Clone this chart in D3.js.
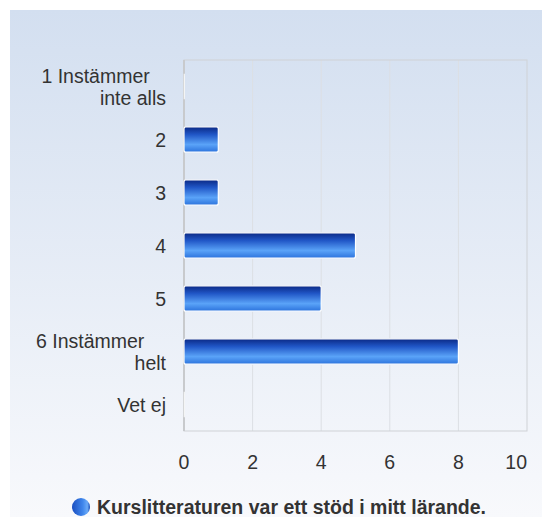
<!DOCTYPE html>
<html><head><meta charset="utf-8">
<script src="https://cdn.jsdelivr.net/npm/d3@7"></script>
<style>html,body{margin:0;padding:0;background:#fff;}svg{display:block;font-family:"Liberation Sans",Arial,sans-serif;}text{white-space:pre;}</style>
</head><body>
<script>
const categories = [["1 Instämmer   ","inte alls"],["2"],["3"],["4"],["5"],["6 Instämmer    ","helt"],["Vet ej"]];
const values = [0,1,1,5,4,8,0];
const xTicks = [0,2,4,6,8,10];
const seriesName = "Kurslitteraturen var ett stöd i mitt lärande.";

const W=542,H=517;
const m={left:184,right:527,top:60,bottom:431};
const FS=19.5;
const svg=d3.select("body").append("svg").attr("width",W).attr("height",H);
const defs=svg.append("defs");
const bg=defs.append("linearGradient").attr("id","bg").attr("x1",0).attr("y1",0).attr("x2",0).attr("y2",1);
bg.append("stop").attr("offset","0%").attr("stop-color","#d3dff0");
bg.append("stop").attr("offset","100%").attr("stop-color","#f8f9fc");
const bar=defs.append("linearGradient").attr("id","bar").attr("x1",0).attr("y1",0).attr("x2",0).attr("y2",1);
[["0%","#0a2884"],["30%","#2056c6"],["70%","#5aa3f8"],["100%","#2b72dc"]].forEach(s=>bar.append("stop").attr("offset",s[0]).attr("stop-color",s[1]));
const leg=defs.append("linearGradient").attr("id","leg").attr("x1",0).attr("y1",0).attr("x2",1).attr("y2",0);
[["0%","#1b4fc0"],["60%","#3f86ec"],["85%","#6aaaf8"],["100%","#1c4fb8"]].forEach(s=>leg.append("stop").attr("offset",s[0]).attr("stop-color",s[1]));

svg.append("rect").attr("x",10).attr("y",10).attr("width",W-10).attr("height",H-10).attr("fill","url(#bg)");

const x=d3.scaleLinear().domain([0,10]).range([m.left,m.right]);
const y=d3.scaleBand().domain(d3.range(categories.length)).range([m.top,m.bottom]).paddingInner(0.52).paddingOuter(0.26);

// grid
svg.append("g").selectAll("line").data(xTicks.slice(1,-1)).join("line")
  .attr("x1",d=>x(d)).attr("x2",d=>x(d)).attr("y1",m.top).attr("y2",m.bottom)
  .attr("stroke","#dcdfe4").attr("stroke-width",1);
svg.append("rect").attr("x",m.left).attr("y",m.top).attr("width",m.right-m.left).attr("height",m.bottom-m.top)
  .attr("fill","none").attr("stroke","#cfd2d6").attr("stroke-width",1);
svg.append("line").attr("x1",m.left).attr("x2",m.left).attr("y1",m.top).attr("y2",m.bottom).attr("stroke","#c8cacd").attr("stroke-width",2);

// bars
svg.append("g").selectAll("rect").data(values).join("rect")
  .attr("x",x(0)).attr("y",(d,i)=>y(i))
  .attr("width",d=>Math.max(x(d)-x(0),0.5)).attr("height",y.bandwidth())
  .attr("rx",2).attr("fill",d=>d>0?"url(#bar)":"#fff")
  .attr("stroke","#fff").attr("stroke-width",d=>d>0?1.2:0.5);

// y labels
const yl=svg.append("g").attr("font-size",FS).attr("fill","#333").attr("text-anchor","end");
categories.forEach((lines,i)=>{
  const cy=y(i)+y.bandwidth()/2;
  if(lines.length===1){
    yl.append("text").attr("x",166).attr("y",cy+7).text(lines[0]);
  } else {
    lines.forEach((t,j)=>{
      yl.append("text").attr("x",166).attr("y",cy-3.5+j*21.5).text(t);
    });
  }
});

// x labels
svg.append("g").attr("font-size",FS).attr("fill","#333")
  .selectAll("text").data(xTicks).join("text")
  .attr("text-anchor",(d,i)=>i===xTicks.length-1?"end":"middle")
  .attr("x",d=>x(d)).attr("y",469).text(d=>d);

// legend
svg.append("ellipse").attr("cx",81).attr("cy",507).attr("rx",9).attr("ry",9).attr("fill","url(#leg)");
svg.append("text").attr("x",97).attr("y",514).attr("font-size",FS).attr("font-weight","bold").attr("fill","#333").text(seriesName);
</script>
</body></html>
